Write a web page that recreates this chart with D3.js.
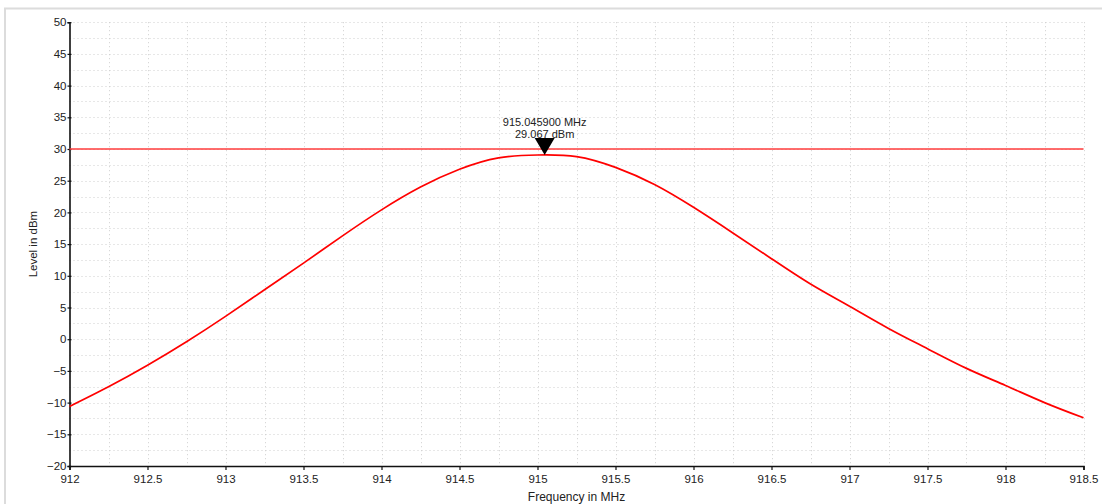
<!DOCTYPE html>
<html>
<head>
<meta charset="utf-8">
<script src="https://cdn.jsdelivr.net/npm/d3@7"></script>
<style>
	body{margin:0;background:#fff;overflow:hidden}
	svg{display:block;font-family:"Liberation Sans",Arial,sans-serif}
</style>
</head>
<body>
<svg width="1102" height="504"></svg>
<script>
// spectrum trace (MHz / dBm)
const freqs=[912,912.25,912.5,912.75,913,913.25,913.5,913.75,914,914.25,914.5,914.75,915,
	915.25,915.5,915.75,916,916.25,916.5,916.75,917,917.25,917.5,917.75,918,918.25,918.5]
const levels=[-10.6,-7.5,-4.1,-0.4,3.6,7.8,12.0,16.3,20.4,24.0,26.8,28.6,29.05,
	28.8,27.1,24.4,20.8,16.8,12.7,8.7,5.2,1.7,-1.5,-4.6,-7.3,-10.0,-12.4]

const xTicks=[912,912.5,913,913.5,914,914.5,915,915.5,916,916.5,917,917.5,918,918.5]
const xMinor=d3.range(912,918.51,0.25)
const yTicks=[-20,-15,-10,-5,0,5,10,15,20,25,30,35,40,45,50]
const yMinor=d3.range(-20,50.1,2.5)

const limitLevel=30
const markerFreq=915.0459
const markerLevel=29.067
const markerText=["915.045900 MHz","29.067 dBm"]

const plotLeft=69.5, plotTop=22.2, plotRight=1083.5, plotBottom=466

const svg=d3.select("svg")

//outer frame
svg.append("rect")
	.attr("x",5).attr("y",8.5)
	.attr("width",1120).attr("height",520)
	.attr("fill","none")
	.attr("stroke","#dcdcdc")
	.attr("stroke-width",2)

const x=d3.scaleLinear().domain([912,918.5]).range([plotLeft,plotRight])
const y=d3.scaleLinear().domain([-20,50]).range([plotBottom,plotTop])

//dotted grid, major and minor
const grid=svg.append("g")
	.attr("stroke","#cfcfcf")
	.attr("stroke-dasharray","1,3")
	.attr("stroke-width",1)

grid.selectAll("line.v")
	.data(xMinor.slice(1))
	.enter().append("line")
	.attr("class","v")
	.attr("x1",d=>Math.round(x(d))+0.5).attr("x2",d=>Math.round(x(d))+0.5)
	.attr("y1",plotTop).attr("y2",plotBottom)

grid.selectAll("line.h")
	.data(yMinor.slice(1))
	.enter().append("line")
	.attr("class","h")
	.attr("y1",d=>Math.round(y(d))+0.5).attr("y2",d=>Math.round(y(d))+0.5)
	.attr("x1",plotLeft).attr("x2",plotRight)

//axes
const xAxis=d3.axisBottom(x)
	.tickValues(xTicks)
	.tickSize(4)
	.tickFormat(d3.format("~f"))
const xAxisMinor=d3.axisBottom(x).tickValues(xMinor).tickSize(4).tickFormat("")

const yAxis=d3.axisLeft(y)
	.tickValues(yTicks)
	.tickSize(2)
	.tickFormat(d3.format("d"))
const yAxisMinor=d3.axisLeft(y).tickValues(yMinor).tickSize(2).tickFormat("")

const gx=svg.append("g").attr("transform",`translate(0,${plotBottom})`)
gx.call(xAxisMinor)
gx.call(xAxis)
const gy=svg.append("g").attr("transform",`translate(${plotLeft},0)`)
gy.call(yAxisMinor)
gy.call(yAxis)

//ticks cross the y axis line
gy.selectAll(".tick line").attr("x2",-2).attr("x1",2)

svg.selectAll(".domain").attr("stroke","#111").attr("stroke-width",1.6)
svg.selectAll(".tick line").attr("stroke","#111").attr("stroke-width",1.2)
svg.selectAll(".tick text")
	.attr("fill","#222")
	.style("font-size","11.5px")
	.style("font-family","'Liberation Sans',Arial,sans-serif")
gx.selectAll(".tick text").attr("dy","0.95em").attr("y",6)
gy.selectAll(".tick text").attr("x",-3)

//axis titles
svg.append("text")
	.attr("transform",`translate(37,${(plotTop+plotBottom)/2}) rotate(-90)`)
	.attr("text-anchor","middle")
	.attr("fill","#222")
	.style("font-size","11.5px")
	.text("Level in dBm")

svg.append("text")
	.attr("x",(plotLeft+plotRight)/2)
	.attr("y",501)
	.attr("text-anchor","middle")
	.attr("fill","#222")
	.style("font-size","12px")
	.text("Frequency in MHz")

//limit line at 30 dBm
svg.append("line")
	.attr("x1",plotLeft).attr("x2",plotRight)
	.attr("y1",y(limitLevel)).attr("y2",y(limitLevel))
	.attr("stroke","#ff3c3c")
	.attr("stroke-width",1.3)

//the trace
const lineGenerator=d3.line()
	.x((d,i)=>x(freqs[i]))
	.y(d=>y(d))
	.curve(d3.curveNatural)

svg.append("path")
	.attr("d",lineGenerator(levels))
	.attr("fill","none")
	.attr("stroke","#ff0000")
	.attr("stroke-width",1.7)

//peak marker
const mx=x(markerFreq), my=y(markerLevel)
svg.append("path")
	.attr("d",`M${mx-10},${my-17}L${mx+10},${my-17}L${mx},${my}Z`)
	.attr("fill","#000")

svg.append("g")
	.selectAll("text")
	.data(markerText)
	.enter().append("text")
	.attr("x",mx)
	.attr("y",(d,i)=>my-29+i*12.5)
	.attr("text-anchor","middle")
	.attr("fill","#222")
	.style("font-size","11px")
	.text(d=>d)
</script>
</body>
</html>
